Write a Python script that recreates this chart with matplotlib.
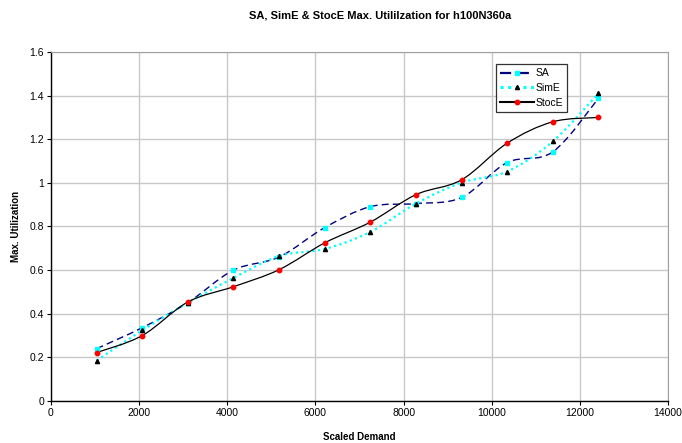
import numpy as np
import matplotlib
matplotlib.use("Agg")
from matplotlib import pyplot as plt
from matplotlib.path import Path
from matplotlib.patches import PathPatch
from matplotlib.lines import Line2D

plt.rcParams['font.family'] = ['Liberation Sans', 'DejaVu Sans']

demand = [1035, 2070, 3105, 4140, 5175, 6210, 7245, 8280, 9315, 10350, 11385, 12420]
sa = [0.24, 0.336, 0.451, 0.60, 0.66, 0.795, 0.891, 0.905, 0.933, 1.093, 1.142, 1.387]
sime = [0.185, 0.324, 0.45, 0.564, 0.665, 0.697, 0.775, 0.905, 1.001, 1.052, 1.19, 1.41]
stoce = [0.222, 0.30, 0.454, 0.524, 0.602, 0.725, 0.82, 0.946, 1.014, 1.182, 1.28, 1.30]


def smooth_path(x, y):
    # Excel-style smoothed line: Catmull-Rom segments as cubic Beziers
    p = np.column_stack([x, y]).astype(float)
    n = len(p)
    verts = [p[0]]
    codes = [Path.MOVETO]
    for i in range(n - 1):
        p0 = p[i - 1] if i > 0 else p[i]
        p3 = p[i + 2] if i + 2 < n else p[i + 1]
        c1 = p[i] + (p[i + 1] - p0) / 6.0
        c2 = p[i + 1] - (p3 - p[i]) / 6.0
        verts += [c1, c2, p[i + 1]]
        codes += [Path.CURVE4] * 3
    return Path(verts, codes)


fig = plt.figure(figsize=(6.82, 4.43), dpi=100)
ax = fig.add_axes([51 / 682, 1 - 401 / 443, 617 / 682, 349 / 443])

series = [
    ("SA", sa, dict(color="#000080", ls=(0, (5, 3)), lw=1.0), dict(marker="s", mfc="#00FFFF", mec="#00FFFF", ms=3.4)),
    ("SimE", sime, dict(color="#00FFFF", ls=(0, (1, 1.5)), lw=1.6), dict(marker="^", mfc="black", mec="black", ms=3.0)),
    ("StocE", stoce, dict(color="black", ls="-", lw=0.9), dict(marker="o", mfc="#FF0000", mec="#FF0000", ms=3.2)),
]

handles = []
for name, vals, lstyle, mstyle in series:
    patch = PathPatch(smooth_path(demand, vals), fill=False, edgecolor=lstyle["color"],
                      linestyle=lstyle["ls"], linewidth=lstyle["lw"], zorder=3)
    ax.add_patch(patch)
    ax.plot(demand, vals, ls="none", zorder=4, **mstyle)
    handles.append(Line2D([], [], color=lstyle["color"], ls=lstyle["ls"], lw=lstyle["lw"] + 0.6, **mstyle))

ax.set_xlim(0, 14000)
ax.set_ylim(0, 1.6)
ax.set_xticks(np.arange(0, 14001, 2000))
ax.set_yticks(np.arange(0, 1.61, 0.2))
ax.set_xticklabels([str(v) for v in range(0, 14001, 2000)])
ax.set_yticklabels(["0", "0.2", "0.4", "0.6", "0.8", "1", "1.2", "1.4", "1.6"])
ax.grid(True, color="#C8C8C8", lw=1.0)
ax.set_axisbelow(True)
for s in ["top", "right"]:
    ax.spines[s].set_color("#A0A0A0")
for s in ["left", "bottom"]:
    ax.spines[s].set_color("black")
    ax.spines[s].set_linewidth(1.0)
ax.tick_params(axis='both', direction='out', length=3, width=0.8, labelsize=7.5, pad=2)

ax.set_xlabel("Scaled Demand", fontsize=7, fontweight="bold", labelpad=10)
ax.set_ylabel("Max. Utilization", fontsize=7, fontweight="bold", labelpad=6)
fig.text(380 / 682, 1 - 16 / 443, "SA, SimE & StocE Max. Utililzation for h100N360a",
         ha="center", va="center", fontsize=8, fontweight="bold")

leg = ax.legend(handles, ["SA", "SimE", "StocE"], loc="upper left",
                bbox_to_anchor=((496 - 51) / 617, (401 - 64) / 349), fontsize=7.5,
                frameon=True, fancybox=False, handlelength=3.2, handletextpad=0.2,
                borderpad=0.4, labelspacing=0.45, borderaxespad=0)
leg.get_frame().set_edgecolor("black")
leg.get_frame().set_linewidth(0.9)

fig.savefig("out.png", dpi=100)
